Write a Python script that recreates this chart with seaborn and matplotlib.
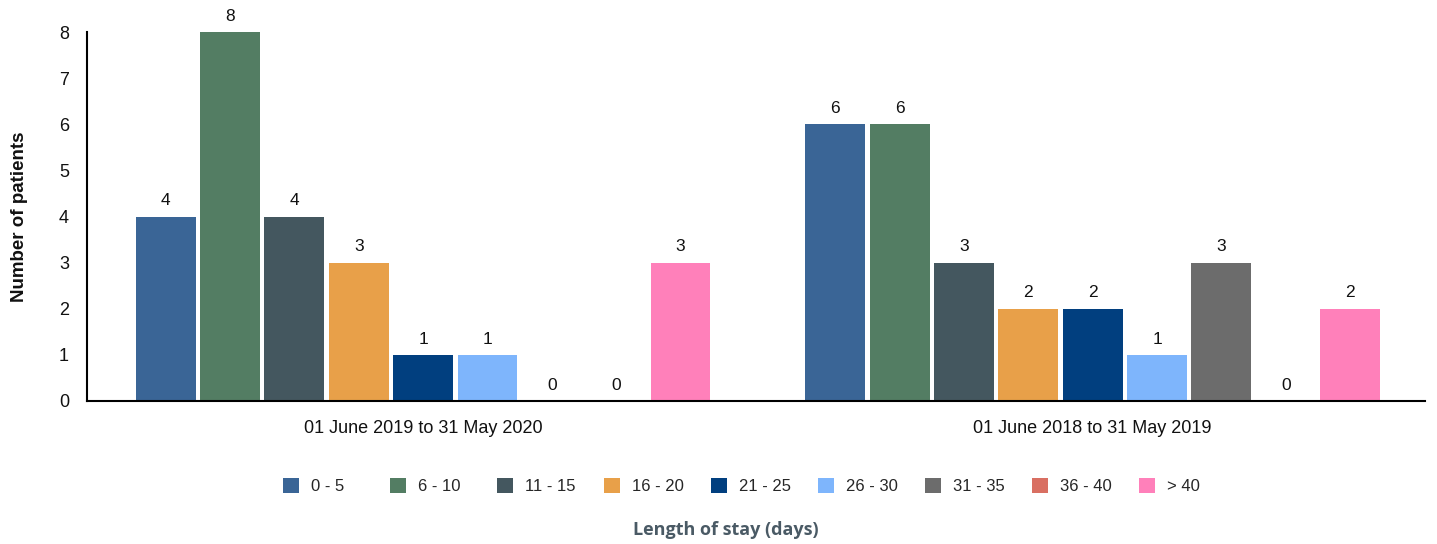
import matplotlib
matplotlib.use("Agg")
import matplotlib.pyplot as plt
from matplotlib.patches import Patch
import seaborn as sns
import pandas as pd

periods = ["01 June 2019 to 31 May 2020", "01 June 2018 to 31 May 2019"]
stay_bins = ["0 - 5", "6 - 10", "11 - 15", "16 - 20", "21 - 25", "26 - 30", "31 - 35", "36 - 40", "> 40"]
counts_2019_2020 = [4, 8, 4, 3, 1, 1, 0, 0, 3]
counts_2018_2019 = [6, 6, 3, 2, 2, 1, 3, 0, 2]
colors = ["#3A6596", "#537D63", "#44575F", "#E8A049", "#013F7F", "#7EB5FC", "#6C6C6C", "#D96F62", "#FF80BA"]

rows = []
for p, vals in zip(periods, [counts_2019_2020, counts_2018_2019]):
    for b, v in zip(stay_bins, vals):
        rows.append({"period": p, "bin": b, "count": v})
df = pd.DataFrame(rows)

sns.set_style("white")
plt.rcParams["font.family"] = ["Liberation Sans", "DejaVu Sans"]

W, H = 1437, 544
fig = plt.figure(figsize=(W / 100, H / 100), dpi=100)
ax = fig.add_axes([0.0605, 0.2629, 0.931, 0.6781])

sns.barplot(data=df, x="period", y="count", hue="bin", hue_order=stay_bins,
            order=periods, palette=colors, width=0.865, gap=0.07,
            saturation=1, legend=False, ax=ax, errorbar=None, linewidth=0)

for c in ax.containers:
    ax.bar_label(c, labels=[f"{int(v)}" for v in c.datavalues], padding=6, fontsize=12.5, color="#111111")

ax.set_ylim(0, 8)
ax.set_xlim(-0.502, 1.496)
ax.set_yticks(range(0, 9))
ax.tick_params(axis="both", length=0, labelsize=13, colors="#111111")
ax.tick_params(axis="y", pad=13)
ax.tick_params(axis="x", pad=14)
ax.set_xlabel("")
ax.set_ylabel("Number of patients", fontsize=13.5, fontweight="bold", labelpad=22, color="#111111")
for s in ["top", "right"]:
    ax.spines[s].set_visible(False)
for s in ["left", "bottom"]:
    ax.spines[s].set_color("black")
    ax.spines[s].set_linewidth(1.5)

# Legend: equal-width columns, one entry each
leg_fs = 12
for i, (lab, col) in enumerate(zip(stay_bins, colors)):
    x_left = (283 + i * 107) / W
    lg = fig.legend([Patch(facecolor=col, edgecolor="none")], [lab],
                    loc="center left", bbox_to_anchor=(x_left, (H - 486) / H),
                    frameon=False, fontsize=leg_fs, handlelength=0.96, handleheight=0.96,
                    handletextpad=0.72, borderpad=0, borderaxespad=0)

fig.text(0.505, 0.025, "Length of stay (days)", ha="center", va="center",
         fontsize=13, fontweight="bold", color="#4A5A65", family=["Open Sans", "DejaVu Sans"])

fig.savefig("out.png", dpi=100)
